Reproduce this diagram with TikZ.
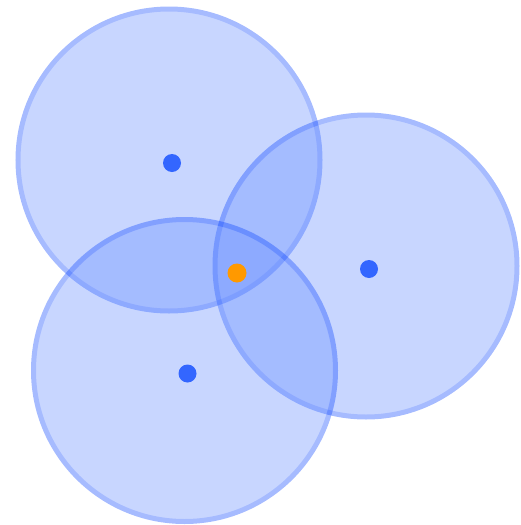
\documentclass[tikz,border=0pt]{standalone}
\usepackage{tikz}
\usetikzlibrary{calc}
\usepackage{xcolor}

\definecolor{discfill}{RGB}{98,138,255}
\definecolor{discedge}{RGB}{0,61,255}
\definecolor{sitedot}{RGB}{51,102,255}
\definecolor{targetdot}{RGB}{255,153,0}

\tikzset{
	disc/.style={fill=discfill, draw=discedge, line width=5},
	site/.style={fill=sitedot},
	target/.style={fill=targetdot}
}

\begin{document}
\begin{tikzpicture}[x=1pt, y=-1pt, line cap=round, line join=round]
	
	% Page frame (pixel units, y pointing down)
	\useasboundingbox (0,0) rectangle (521,525);
	
	% Circle centres
	\coordinate (C1) at (169,160);
	\coordinate (C2) at (366,266);
	\coordinate (C3) at (184.5,370.5);
	
	% Translucent coverage discs
	\foreach \c in {C1,C2,C3}{
		\begin{scope}[transparency group, opacity=0.35]
			\draw[disc] (\c) circle (151);
		\end{scope}
	}
	
	% Station dots (slightly off the centres)
	\fill[site] ($(C1)+(3,3)$) circle (9);
	\fill[site] ($(C2)+(3,3)$) circle (9);
	\fill[site] ($(C3)+(3,3)$) circle (9);
	
	% Estimated position
	\coordinate (P) at (237,273);
	\fill[target] (P) circle (9.5);
	
\end{tikzpicture}
\end{document}
